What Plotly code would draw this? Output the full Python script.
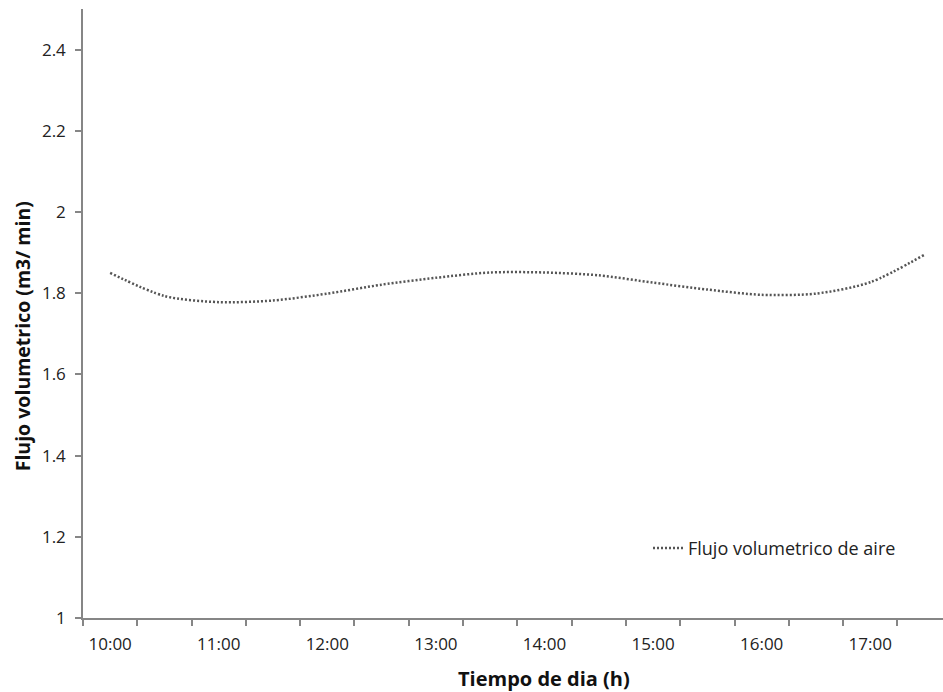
import plotly.graph_objects as go

categories = ["10:00", "10:30", "11:00", "11:30", "12:00", "12:30", "13:00", "13:30",
              "14:00", "14:30", "15:00", "15:30", "16:00", "16:30", "17:00", "17:30"]
flujo = [1.850, 1.793, 1.778, 1.782, 1.799, 1.821, 1.838, 1.851,
         1.851, 1.844, 1.826, 1.809, 1.796, 1.799, 1.827, 1.895]
tick_labels = ["10:00", "11:00", "12:00", "13:00", "14:00", "15:00", "16:00", "17:00"]

idx = list(range(len(categories)))
label_pos = [categories.index(t) for t in tick_labels]
boundaries = [i - 0.5 for i in range(len(categories) + 1)]

FONT = "Open Sans"
AXIS = "#868686"

fig = go.Figure()
fig.add_trace(go.Scatter(
    x=idx, y=flujo, mode="lines", name="Flujo volumetrico de aire",
    line=dict(color="#555555", width=2.5, dash="2px,2px", shape="spline", smoothing=0.8),
))

fig.update_layout(
    width=943, height=692,
    margin=dict(l=83, r=0, t=9, b=74),
    paper_bgcolor="white", plot_bgcolor="white",
    font=dict(family=FONT, size=17, color="#222222"),
    showlegend=True,
    legend=dict(x=(901 - 83) / 860, y=(617.7 - 548) / 609, xanchor="right", yanchor="middle",
                bgcolor="rgba(0,0,0,0)", font=dict(family=FONT, size=18, color="#222222"),
                itemwidth=30),
    xaxis=dict(
        range=[-0.5, 15.34], showgrid=False, zeroline=False,
        showline=True, linecolor=AXIS, linewidth=1.5,
        tickmode="array", tickvals=label_pos, ticktext=tick_labels,
        ticks="", ticklabelstandoff=10,
        minor=dict(tickmode="array", tickvals=boundaries, ticks="outside",
                   ticklen=6, tickcolor=AXIS, tickwidth=1.5),
    ),
    yaxis=dict(
        range=[1, 2.5], showgrid=False, zeroline=False,
        showline=True, linecolor=AXIS, linewidth=1.5,
        tickmode="linear", tick0=1, dtick=0.2,
        ticks="outside", ticklen=6, tickcolor=AXIS, tickwidth=1.5,
        ticklabelstandoff=6,
    ),
    annotations=[
        dict(text="<b>Tiempo de dia (h)</b>", xref="paper", yref="paper",
             x=(544 - 83) / 860, y=-(678 - 617.7) / 609, xanchor="center", yanchor="middle",
             showarrow=False, font=dict(family=FONT, size=20, color="#111111")),
        dict(text="<b>Flujo volumetrico (m3/ min)</b>", xref="paper", yref="paper",
             x=-(83 - 22) / 860, y=(617.7 - 336) / 609, xanchor="center", yanchor="middle",
             textangle=-90, showarrow=False, font=dict(family=FONT, size=19.5, color="#111111")),
    ],
)

fig.write_html("out.html", config={"displayModeBar": False},
               post_script="document.body.style.margin='0';document.body.style.overflow='hidden';")
